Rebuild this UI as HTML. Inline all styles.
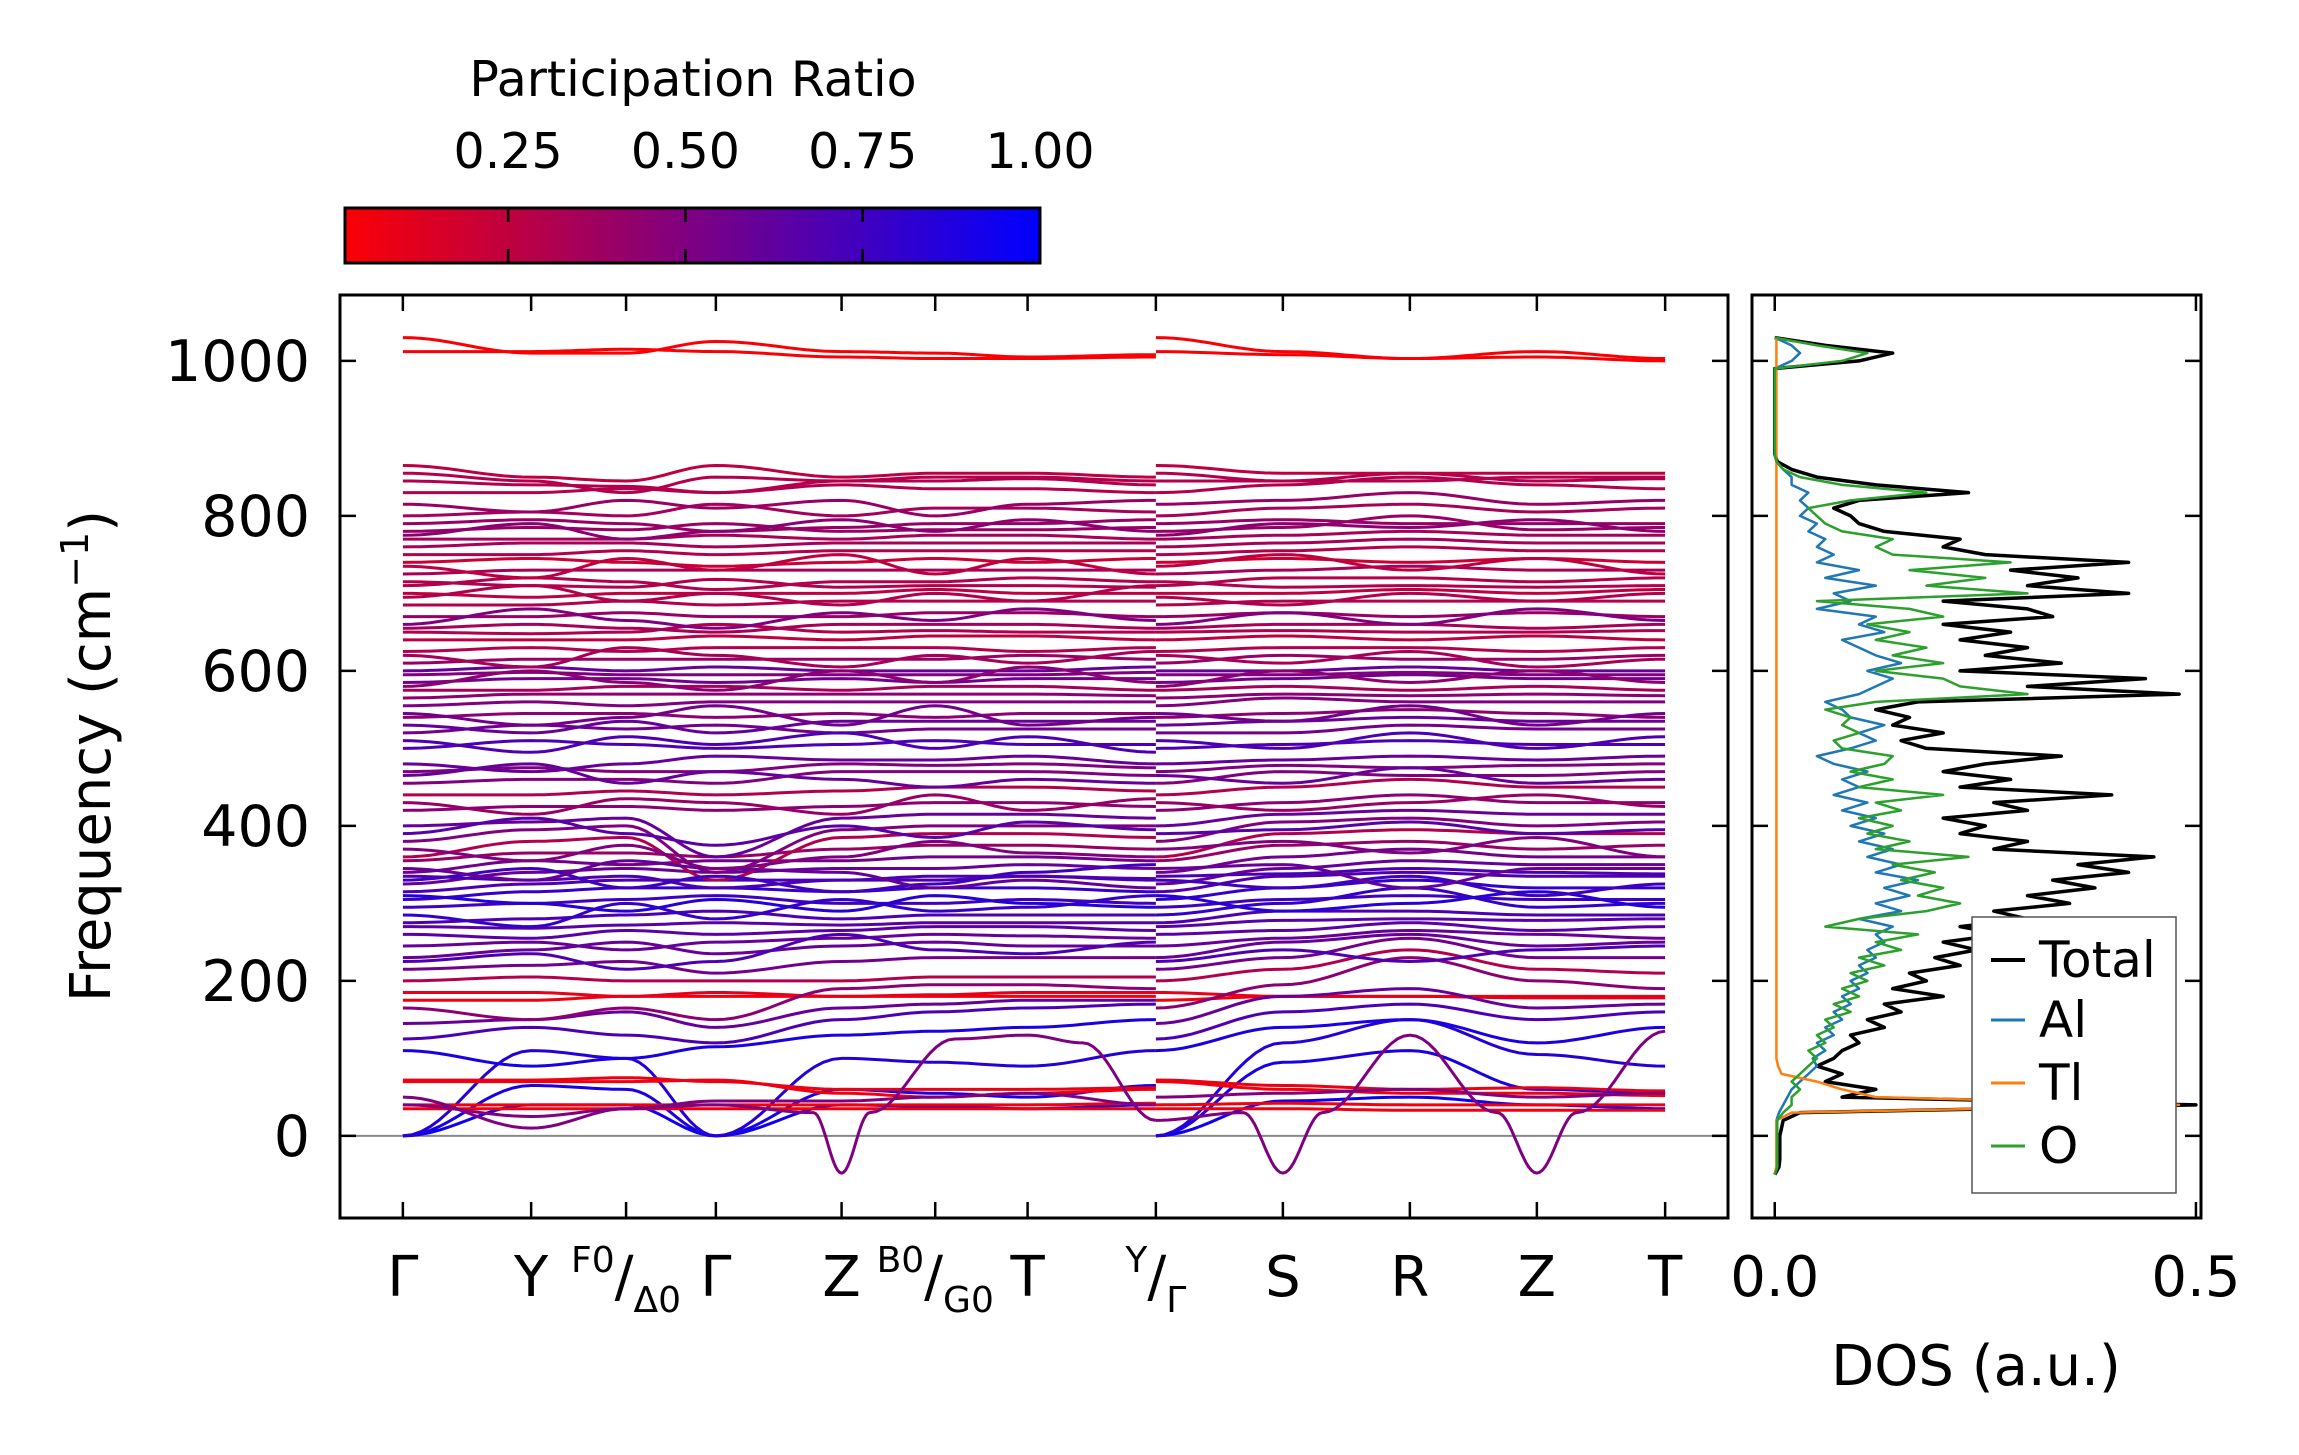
<!DOCTYPE html>
<html><head><meta charset="utf-8"><style>
html,body{margin:0;padding:0;background:#fff;}
svg{display:block;font-family:"DejaVu Sans","Liberation Sans",sans-serif;}
</style></head><body>
<svg id="fig" width="2299" height="1455" viewBox="0 0 2299 1455" xmlns="http://www.w3.org/2000/svg">
<defs>
<linearGradient id="cbgrad" x1="0" x2="1" y1="0" y2="0">
<stop offset="0" stop-color="rgb(250,0,5)"/><stop offset="1" stop-color="rgb(0,0,255)"/>
</linearGradient>
<clipPath id="clipMain"><rect x="340" y="295" width="1388" height="923"/></clipPath>
<clipPath id="clipDos"><rect x="1752" y="295" width="449" height="923"/></clipPath>
</defs>
<g id="colorbar">
<text x="693" y="96" font-size="49" text-anchor="middle">Participation Ratio</text>
<rect x="345" y="208" width="695" height="55" fill="url(#cbgrad)" stroke="#000" stroke-width="3"/>
</g>
<g id="bands" clip-path="url(#clipMain)"></g>
<g id="mainAxes"></g>
<g id="dos" clip-path="url(#clipDos)"></g>
<g id="dosAxes"></g>
<text transform="translate(110,756) rotate(-90)" font-size="56" text-anchor="middle">Frequency (cm<tspan dy="-22" font-size="38">−1</tspan><tspan dy="22">)</tspan></text>
<text x="1976" y="1385" font-size="56" text-anchor="middle">DOS (a.u.)</text>
<g id="legend">
<rect x="1972" y="917" width="204" height="276" fill="#fff" stroke="#555" stroke-width="1.5"/>
</g>
</svg>
<script>
// ---------- band data ----------
const kPanelA = [0,1.0,1.74,2.44,3.42,4.15,4.87,5.87];
const kPanelB = [5.87,6.86,7.85,8.84,9.84];
const tickK = [0,1.0,1.74,2.44,3.42,4.15,4.87,5.87,6.86,7.85,8.84,9.84];
const tickLabels = ["Γ","Y","F0/Δ0","Γ","Z","B0/G0","T","Y/Γ","S","R","Z","T"];
const bandFreqs = [
[1030,1010,1010,1025,1012,1010,1005,1008, 1030,1012,1003,1012,1003],
[1012,1012,1015,1012,1005,1003,1003,1005, 1012,1008,1003,1005,1000],
[0,40,40,0,40,38,35,40, 0,45,50,40,35],
[0,65,60,0,60,55,50,65, 0,95,110,60,55],
[0,110,100,0,100,95,90,110, 0,120,150,105,90],
[35,35,35,35,35,35,35,35, 35,35,33,33,33],
[40,40,40,40,40,40,40,42, 40,42,40,40,40],
[70,70,70,72,55,50,55,60, 70,60,55,55,52],
[72,72,75,70,60,60,60,62, 72,65,60,62,58],
[175,175,180,180,180,180,180,180, 175,180,180,180,180],
[185,185,180,185,180,182,185,185, 185,180,180,178,178],
[50,10,35,45,45,50,55,40, 50,55,60,50,55],
[110,90,100,115,130,135,140,150, 110,140,150,120,140],
[125,140,130,120,150,160,165,170, 125,160,170,150,160],
[145,150,160,140,165,170,175,175, 145,180,190,165,170],
[165,150,165,150,190,195,195,190, 165,195,230,200,190],
[200,205,200,200,200,205,205,205, 200,215,240,215,210],
[215,220,225,210,225,230,230,230, 215,230,255,230,230],
[230,240,250,235,245,250,245,245, 230,250,260,245,250],
[245,250,240,250,255,260,258,255, 245,255,265,260,255],
[260,255,265,260,265,270,270,265, 260,265,275,265,270],
[270,268,272,275,272,275,275,275, 270,278,280,278,280],
[275,280,285,290,280,285,285,285, 275,290,290,285,285],
[295,300,305,310,300,300,305,300, 295,305,310,305,305],
[305,315,320,320,315,320,320,315, 305,320,330,320,320],
[315,325,330,330,330,330,335,330, 315,335,340,335,335],
[325,340,345,340,345,345,350,345, 325,345,355,350,350],
[335,330,335,320,330,335,335,332, 335,338,345,340,338],
[340,355,350,355,355,360,360,355, 340,360,370,360,360],
[355,365,365,360,370,375,375,370, 355,375,380,370,375],
[360,380,385,330,385,390,390,385, 360,390,395,390,390],
[380,395,400,340,395,400,400,400, 380,405,410,400,405],
[400,405,410,360,410,415,415,410, 400,415,420,415,415],
[420,425,425,420,425,430,430,425, 420,430,440,430,430],
[440,440,445,440,445,450,450,445, 440,450,460,450,450],
[455,460,460,455,470,470,470,465, 455,470,465,465,470],
[470,475,470,470,480,478,480,475, 470,478,475,478,480],
[480,470,480,490,485,485,490,480, 480,485,490,485,490],
[500,510,505,500,505,510,505,505, 500,505,510,505,505],
[520,530,525,530,520,525,525,525, 520,520,530,525,525],
[530,520,535,520,535,535,535,535, 530,535,540,535,535],
[540,545,545,540,545,540,545,545, 540,545,550,545,540],
[555,560,555,560,560,560,560,560, 555,565,560,560,560],
[565,570,570,570,570,570,570,568, 565,570,568,570,568],
[575,575,580,580,575,580,580,575, 575,580,575,580,575],
[585,590,590,585,590,585,590,590, 585,590,595,590,590],
[595,598,595,595,595,595,595,598, 595,595,598,595,595],
[600,605,600,605,600,600,600,605, 600,600,605,600,600],
[610,615,615,615,615,615,620,615, 610,620,615,615,620],
[625,630,625,630,630,630,625,630, 625,630,630,625,630],
[640,640,640,645,640,645,645,640, 640,645,640,645,640],
[650,648,650,660,650,652,650,650, 650,652,650,650,652],
[655,660,655,650,660,660,660,655, 655,660,660,655,660],
[670,670,675,670,670,675,675,670, 670,675,670,675,670],
[685,685,690,685,690,690,690,690, 685,690,690,690,690],
[700,695,700,700,700,705,700,700, 700,700,705,700,705],
[710,720,715,705,715,715,720,715, 710,720,720,715,720],
[715,710,708,718,708,710,710,708, 715,708,710,708,710],
[725,730,730,730,730,730,730,730, 725,730,735,730,730],
[740,745,740,735,740,745,740,745, 740,745,740,745,740],
[750,750,755,750,755,755,755,755, 750,755,760,755,755],
[760,765,765,760,765,765,765,765, 760,765,770,765,765],
[770,770,770,775,770,775,775,770, 770,775,780,775,775],
[780,785,782,790,780,782,782,785, 780,785,800,782,785],
[790,795,790,780,785,790,790,795, 790,795,790,790,790],
[800,805,800,815,800,810,810,805, 800,810,815,805,810],
[830,830,835,830,840,835,835,830, 830,840,850,840,835],
[845,840,838,830,845,845,848,840, 845,845,855,845,848],
[855,845,830,850,845,850,850,845, 855,845,845,850,850],
[865,850,845,865,850,855,855,850, 865,855,855,855,855],
[225,235,215,225,260,240,235,250, 225,240,225,240,245],
[285,270,300,280,305,290,295,310, 285,300,320,295,300],
[310,300,290,305,290,310,300,295, 310,290,300,315,295],
[330,345,320,335,315,325,340,350, 330,320,335,310,325],
[345,330,355,345,340,320,330,320, 345,350,320,345,345],
[370,355,375,345,360,380,365,360, 370,380,365,385,360],
[390,410,390,375,400,385,405,395, 390,395,405,390,395],
[430,415,435,430,415,440,420,435, 430,420,430,440,425],
[465,480,455,470,460,450,460,455, 465,455,475,455,460],
[510,495,515,505,520,500,515,495, 510,500,520,500,515],
[545,530,540,555,530,555,530,540, 545,535,555,530,545],
[580,600,585,575,600,585,605,585, 580,600,585,600,585],
[620,605,630,620,605,620,610,625, 620,610,625,605,615],
[660,680,665,655,675,665,680,665, 660,675,660,680,665],
[695,710,690,700,685,700,690,710, 695,685,700,690,700],
[735,720,745,730,750,725,745,725, 735,750,730,745,725],
[775,790,770,780,795,780,795,780, 775,790,785,795,780],
[815,805,820,810,820,800,815,820, 815,820,830,815,820]
];
const bandPR = [0.02,0.02,0.95,0.9,0.85,0.05,0.05,0.05,0.08,0.05,0.1,0.5,0.9,0.7,0.6,0.45,0.3,0.55,0.6,0.6,0.65,0.65,0.7,0.75,0.8,0.7,0.6,0.7,0.55,0.4,0.3,0.5,0.6,0.45,0.3,0.5,0.5,0.6,0.7,0.55,0.6,0.45,0.5,0.45,0.35,0.55,0.5,0.6,0.4,0.3,0.25,0.3,0.35,0.4,0.3,0.25,0.3,0.3,0.35,0.2,0.3,0.35,0.35,0.4,0.4,0.35,0.3,0.3,0.3,0.25,
0.7,0.8,0.85,0.75,0.6,0.5,0.65,0.4,0.6,0.7,0.55,0.45,0.35,0.5,0.3,0.25,0.45,0.4];
const dipAK = [0,1,1.74,2.44,3.2,3.42,3.64,4.3,4.87,5.3,5.87];
const dipAF = [40,25,35,40,30,-48,30,125,130,120,20];
const dipBK = [5.87,6.55,6.86,7.17,7.85,8.53,8.84,9.15,9.84];
const dipBF = [20,30,-48,30,130,30,-48,30,135];
const dipPR = 0.5;

// ---------- DOS data ----------
const dosFreq = [-50,-40,-30,-20,-10,0,10,20,30,40,50,60,70,80,90,100,110,120,130,140,150,160,170,180,190,200,210,220,230,240,250,260,270,280,290,300,310,320,330,340,350,360,370,380,390,400,410,420,430,440,450,460,470,480,490,500,510,520,530,540,550,560,570,580,590,600,610,620,630,640,650,660,670,680,690,700,710,720,730,740,750,760,770,780,790,800,810,820,830,840,850,860,870,880,890,900,910,920,930,940,950,960,970,980,990,1000,1010,1020,1030];
const dosTotal = [0,0.005,0.006,0.006,0.006,0.006,0.008,0.01,0.03,0.5,0.08,0.12,0.06,0.08,0.05,0.07,0.08,0.1,0.09,0.13,0.11,0.15,0.13,0.2,0.14,0.18,0.16,0.22,0.19,0.24,0.2,0.27,0.22,0.3,0.26,0.35,0.3,0.38,0.33,0.42,0.36,0.45,0.26,0.3,0.22,0.25,0.2,0.3,0.26,0.4,0.22,0.28,0.2,0.25,0.34,0.18,0.15,0.2,0.14,0.16,0.12,0.17,0.48,0.3,0.44,0.22,0.34,0.25,0.3,0.22,0.28,0.2,0.33,0.3,0.2,0.42,0.3,0.36,0.28,0.42,0.25,0.2,0.22,0.13,0.1,0.09,0.07,0.1,0.23,0.12,0.05,0.02,0.003,0,0,0,0,0,0,0,0,0,0,0,0,0.1,0.14,0.06,0];
const dosO = [0,0.003,0.003,0.003,0.003,0.003,0.003,0.003,0.01,0.02,0.02,0.03,0.02,0.03,0.04,0.05,0.04,0.06,0.05,0.07,0.06,0.09,0.07,0.1,0.08,0.11,0.09,0.13,0.1,0.15,0.12,0.17,0.06,0.1,0.18,0.22,0.17,0.2,0.15,0.19,0.14,0.23,0.12,0.16,0.11,0.14,0.1,0.15,0.12,0.2,0.1,0.14,0.09,0.13,0.14,0.08,0.07,0.1,0.08,0.09,0.06,0.12,0.3,0.22,0.2,0.12,0.2,0.14,0.18,0.12,0.16,0.11,0.2,0.16,0.05,0.3,0.18,0.25,0.16,0.28,0.14,0.12,0.14,0.08,0.06,0.05,0.04,0.09,0.18,0.08,0.03,0.01,0.002,0,0,0,0,0,0,0,0,0,0,0,0,0.08,0.11,0.05,0];
const dosAl = [0,0.002,0.002,0.002,0.002,0.002,0.002,0.002,0.005,0.01,0.015,0.02,0.03,0.04,0.05,0.045,0.06,0.05,0.07,0.06,0.08,0.07,0.09,0.08,0.1,0.09,0.11,0.1,0.12,0.11,0.13,0.12,0.14,0.1,0.15,0.12,0.16,0.13,0.17,0.12,0.15,0.11,0.14,0.1,0.13,0.09,0.12,0.08,0.11,0.07,0.1,0.08,0.11,0.07,0.05,0.09,0.12,0.1,0.13,0.09,0.08,0.06,0.1,0.12,0.14,0.11,0.15,0.12,0.1,0.08,0.13,0.1,0.12,0.05,0.09,0.07,0.12,0.06,0.1,0.05,0.07,0.05,0.06,0.04,0.05,0.03,0.04,0.03,0.04,0.02,0.02,0.01,0.002,0,0,0,0,0,0,0,0,0,0,0,0,0.02,0.03,0.02,0];
const tlFreq = [-50,-40,20,30,40,50,60,70,80,90,100,1030];
const dosTl = [0,0.002,0.002,0.02,0.48,0.12,0.08,0.05,0.008,0.004,0.002,0.002];
const dosSeriesNames = ["Total","Al","Tl","O"];
const dosSeriesColors = ["#000000","#1f77b4","#ff7f0e","#2ca02c"];

const yTicks = [0,200,400,600,800,1000];
const dosXTicks = [0.0,0.5];
const cbTicks = [0.25,0.5,0.75,1.0];

// ---------- scales ----------
const NS = "http://www.w3.org/2000/svg";
const axL=340, axR=1728, axT=295, axB=1218;
const dL=1752, dR=2201;
const kMin=-0.49, kMax=10.33, fMin=-106, fMax=1085;
const xK = k => axL + (k-kMin)/(kMax-kMin)*(axR-axL);
const yF = f => axB - (f-fMin)/(fMax-fMin)*(axB-axT);
const xD = v => dL + (v+0.027)/(0.506+0.027)*(dR-dL);
const cbX = v => 345 + (v-0.02)/(1-0.02)*695;
const prColor = p => `rgb(${Math.round(255*(1-p))},0,${Math.round(255*p)})`;

function mk(tag, attrs, parent){
  const e=document.createElementNS(NS,tag);
  for(const a in attrs) e.setAttribute(a,attrs[a]);
  parent.appendChild(e); return e;
}
function smoothPath(ks, fs){
  let d=`M${xK(ks[0]).toFixed(1)},${yF(fs[0]).toFixed(1)}`;
  for(let i=0;i<ks.length-1;i++){
    const n=14;
    for(let j=1;j<=n;j++){
      const t=j/n, w=(1-Math.cos(Math.PI*t))/2;
      const k=ks[i]+(ks[i+1]-ks[i])*t, f=fs[i]+(fs[i+1]-fs[i])*w;
      d+=`L${xK(k).toFixed(1)},${yF(f).toFixed(1)}`;
    }
  }
  return d;
}

// ---------- bands ----------
const gB=document.getElementById('bands');
const zl=mk('line',{x1:axL,x2:axR,y1:yF(0),y2:yF(0),stroke:'#888','stroke-width':2},gB);


bandFreqs.forEach((row,i)=>{
  const col=prColor(bandPR[i]);
  const pa=mk('path',{d:smoothPath(kPanelA,row.slice(0,8)),fill:'none',stroke:col,'stroke-width':3},gB);
  
  
  const pb=mk('path',{d:smoothPath(kPanelB,row.slice(8,13)),fill:'none',stroke:col,'stroke-width':3},gB);
  
  
});
const da=mk('path',{d:smoothPath(dipAK,dipAF),fill:'none',stroke:prColor(dipPR),'stroke-width':3},gB);


const db=mk('path',{d:smoothPath(dipBK,dipBF),fill:'none',stroke:prColor(dipPR),'stroke-width':3},gB);



// ---------- main axes ----------
const gA=document.getElementById('mainAxes');
const fr=mk('rect',{x:axL,y:axT,width:axR-axL,height:axB-axT,fill:'none',stroke:'#000','stroke-width':3},gA);


tickK.forEach((k,i)=>{
  const x=xK(k);
  mk('line',{x1:x,x2:x,y1:axB,y2:axB-16,stroke:'#000','stroke-width':2.5},gA);
  mk('line',{x1:x,x2:x,y1:axT,y2:axT+16,stroke:'#000','stroke-width':2.5},gA);
  const lab=tickLabels[i];
  const t=mk('text',{x:x,y:1296,'font-size':56,'text-anchor':'middle'},gA);
  
  
  if(lab.includes('/')){
    const [a,b]=lab.split('/');
    const s1=mk('tspan',{'font-size':36,dy:-24},t); s1.textContent=a;
    const s2=mk('tspan',{'font-size':56,dy:24},t); s2.textContent='/';
    const s3=mk('tspan',{'font-size':36,dy:16},t); s3.textContent=b;
  } else t.textContent=lab;
});
yTicks.forEach(f=>{
  const y=yF(f);
  mk('line',{x1:axL,x2:axL+16,y1:y,y2:y,stroke:'#000','stroke-width':2.5},gA);
  mk('line',{x1:axR,x2:axR-16,y1:y,y2:y,stroke:'#000','stroke-width':2.5},gA);
  const t=mk('text',{x:310,y:y+20,'font-size':57,'text-anchor':'end'},gA);
  
  
  t.textContent=String(f);
});

// ---------- colorbar ticks ----------
const gC=document.getElementById('colorbar');
cbTicks.forEach(v=>{
  const x=cbX(v);
  if(v<1){
    mk('line',{x1:x,x2:x,y1:208,y2:222,stroke:'#000','stroke-width':2.5},gC);
    mk('line',{x1:x,x2:x,y1:249,y2:263,stroke:'#000','stroke-width':2.5},gC);
  }
  const t=mk('text',{x:x,y:168,'font-size':49,'text-anchor':'middle'},gC);
  
  
  t.textContent=v.toFixed(2);
});

// ---------- DOS ----------
const gD=document.getElementById('dos');
function dosPath(fq,vals){return fq.map((f,i)=>(i?'L':'M')+xD(vals[i]).toFixed(1)+','+yF(f).toFixed(1)).join('');}
const seriesData=[[dosFreq,dosTotal],[dosFreq,dosAl],[tlFreq,dosTl],[dosFreq,dosO]];
seriesData.forEach((s,i)=>{
  const p=mk('path',{d:dosPath(s[0],s[1]),fill:'none',stroke:dosSeriesColors[i],'stroke-width':i===0?3.5:2.5,'stroke-linejoin':'round'},gD);
  
  
});
const gDA=document.getElementById('dosAxes');
const dfr=mk('rect',{x:dL,y:axT,width:dR-dL,height:axB-axT,fill:'none',stroke:'#000','stroke-width':3},gDA);


yTicks.forEach(f=>{
  const y=yF(f);
  mk('line',{x1:dL,x2:dL+16,y1:y,y2:y,stroke:'#000','stroke-width':2.5},gDA);
  mk('line',{x1:dR,x2:dR-16,y1:y,y2:y,stroke:'#000','stroke-width':2.5},gDA);
});
dosXTicks.forEach(v=>{
  const x=xD(v);
  mk('line',{x1:x,x2:x,y1:axB,y2:axB-16,stroke:'#000','stroke-width':2.5},gDA);
  mk('line',{x1:x,x2:x,y1:axT,y2:axT+16,stroke:'#000','stroke-width':2.5},gDA);
  const t=mk('text',{x:x,y:1296,'font-size':56,'text-anchor':'middle'},gDA);
  
  
  t.textContent=v.toFixed(1);
});

// ---------- legend ----------
const gL=document.getElementById('legend');
const legY=[960,1020,1083,1146];
dosSeriesNames.forEach((n,i)=>{
  const l=mk('line',{x1:1991,x2:2025,y1:legY[i],y2:legY[i],stroke:dosSeriesColors[i],'stroke-width':i===0?4:3},gL);
  
  
  const t=mk('text',{x:2039,y:legY[i]+17,'font-size':50},gL);
  
  
  t.textContent=n;
});
</script>
</body></html>
